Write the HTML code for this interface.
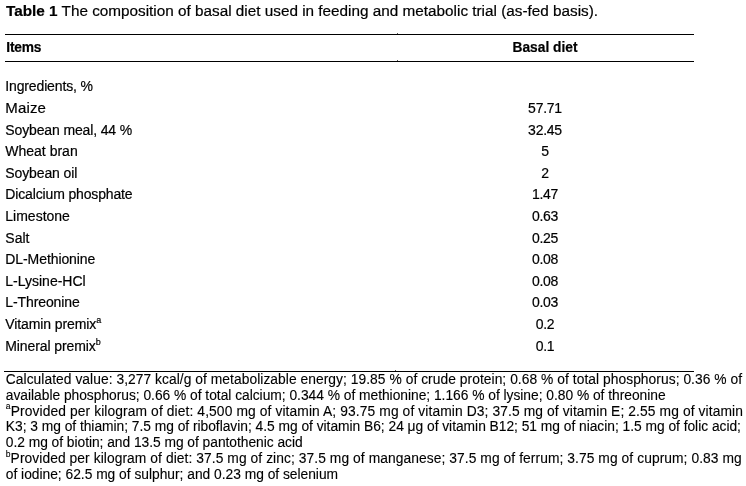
<!DOCTYPE html>
<html><head><meta charset="utf-8">
<style>
html,body{margin:0;padding:0;background:#fff;}
body{width:746px;height:486px;position:relative;overflow:hidden;font-family:"Liberation Sans",sans-serif;color:#000;}
.a{position:absolute;white-space:nowrap;line-height:1;-webkit-text-stroke:0.12px #000;}
.hr{position:absolute;height:1px;background:#000;}
.r{font-size:14px;left:5.3px;}
.v{letter-spacing:-0.25px;font-size:14px;width:120px;text-align:center;left:485px;}
.hd{font-size:13.75px;font-weight:bold;}
.r,.v,.hd,.t{-webkit-text-stroke:0.2px #000;}
sup{font-size:9px;line-height:0;vertical-align:0;position:relative;top:-6px;}
.f{font-size:13.8px;left:5.8px;}
.f sup{font-size:8.5px;top:-6.5px;}
</style></head><body><div style="position:absolute;left:0;top:0;width:746px;height:486px;will-change:transform">

<div class="a t" style="left:6px;top:3px;font-size:15.3px;letter-spacing:0px"><b style="letter-spacing:0px">Table 1</b> The composition of basal diet used in feeding and metabolic trial (as-fed basis).</div>
<div class="hr" style="left:5px;width:689px;top:34px"></div>
<div class="hr" style="left:5px;width:689px;top:61px"></div>
<div class="hr" style="left:4px;width:690px;top:371px"></div>
<div class="hr" style="left:397px;width:1px;top:33px;background:#555"></div>
<div class="hr" style="left:397px;width:1px;top:60px;background:#555"></div>
<div class="hr" style="left:395px;width:1px;top:370px;background:#555"></div>
<div class="a hd" style="left:6.3px;top:41px;letter-spacing:-0.2px">Items</div>
<div class="a hd" style="left:485px;width:120px;text-align:center;top:41px">Basal diet</div>
<div class="a r" style="top:79.35px;letter-spacing:-0.142px;font-size:14px">Ingredients, %</div>
<div class="a r" style="top:100.10px;letter-spacing:0.14px;font-size:15px">Maize</div>
<div class="a v" style="top:100.95px">57.71</div>
<div class="a r" style="top:122.55px;letter-spacing:-0.133px;font-size:14px">Soybean meal, 44 %</div>
<div class="a v" style="top:122.55px">32.45</div>
<div class="a r" style="top:144.15px;letter-spacing:0px;font-size:14px">Wheat bran</div>
<div class="a v" style="top:144.15px">5</div>
<div class="a r" style="top:165.75px;letter-spacing:-0.118px;font-size:14px">Soybean oil</div>
<div class="a v" style="top:165.75px">2</div>
<div class="a r" style="top:187.35px;letter-spacing:-0.147px;font-size:14px">Dicalcium phosphate</div>
<div class="a v" style="top:187.35px">1.47</div>
<div class="a r" style="top:208.95px;letter-spacing:0px;font-size:14px">Limestone</div>
<div class="a v" style="top:208.95px">0.63</div>
<div class="a r" style="top:230.55px;letter-spacing:0px;font-size:14px">Salt</div>
<div class="a v" style="top:230.55px">0.25</div>
<div class="a r" style="top:252.15px;letter-spacing:-0.085px;font-size:14px">DL-Methionine</div>
<div class="a v" style="top:252.15px">0.08</div>
<div class="a r" style="top:273.75px;letter-spacing:0px;font-size:14px">L-Lysine-HCl</div>
<div class="a v" style="top:273.75px">0.08</div>
<div class="a r" style="top:295.35px;letter-spacing:-0.1px;font-size:14px">L-Threonine</div>
<div class="a v" style="top:295.35px">0.03</div>
<div class="a r" style="top:316.95px;letter-spacing:-0.106px;font-size:14px">Vitamin premix<sup>a</sup></div>
<div class="a v" style="top:316.95px">0.2</div>
<div class="a r" style="top:338.55px;letter-spacing:-0.1px;font-size:14px">Mineral premix<sup>b</sup></div>
<div class="a v" style="top:338.55px">0.1</div>
<div class="a f" style="top:373.02px;letter-spacing:0.0521px">Calculated value: 3,277 kcal/g of metabolizable energy; 19.85 % of crude protein; 0.68 % of total phosphorus; 0.36 % of</div>
<div class="a f" style="top:388.82px;letter-spacing:-0.0194px">available phosphorus; 0.66 % of total calcium; 0.344 % of methionine; 1.166 % of lysine; 0.80 % of threonine</div>
<div class="a f" style="top:404.62px;letter-spacing:0.1109px"><sup>a</sup>Provided per kilogram of diet: 4,500 mg of vitamin A; 93.75 mg of vitamin D3; 37.5 mg of vitamin E; 2.55 mg of vitamin</div>
<div class="a f" style="top:420.42px;letter-spacing:-0.0232px">K3; 3 mg of thiamin; 7.5 mg of riboflavin; 4.5 mg of vitamin B6; 24 μg of vitamin B12; 51 mg of niacin; 1.5 mg of folic acid;</div>
<div class="a f" style="top:436.22px;letter-spacing:-0.0326px">0.2 mg of biotin; and 13.5 mg of pantothenic acid</div>
<div class="a f" style="top:452.02px;letter-spacing:0.0767px"><sup>b</sup>Provided per kilogram of diet: 37.5 mg of zinc; 37.5 mg of manganese; 37.5 mg of ferrum; 3.75 mg of cuprum; 0.83 mg</div>
<div class="a f" style="top:467.82px;letter-spacing:-0.0111px">of iodine; 62.5 mg of sulphur; and 0.23 mg of selenium</div>
</div></body></html>
